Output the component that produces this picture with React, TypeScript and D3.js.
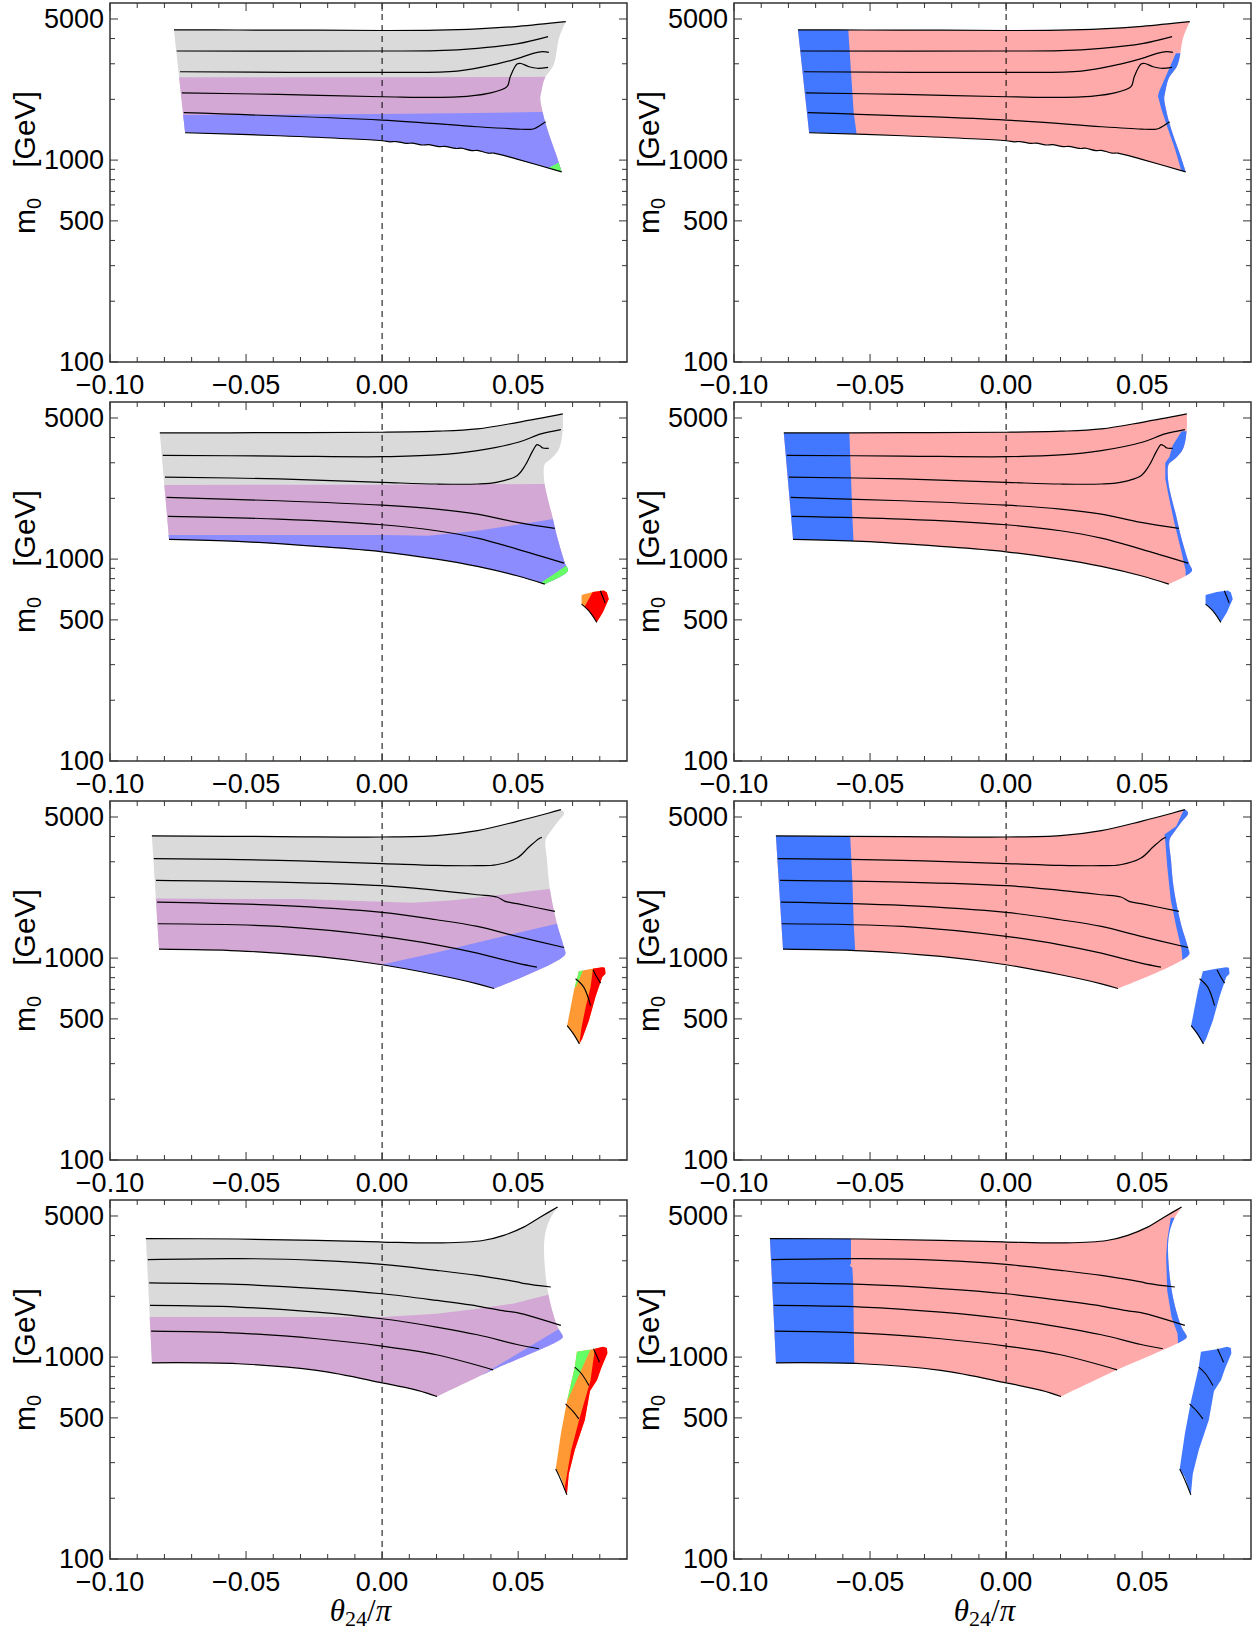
import React from "react";
import * as d3 from "d3";

type P = [number, number];

// ---------- axes ----------
const xMajor = [-0.1, -0.05, 0, 0.05];
const xMajorLabels = ["\u22120.10", "\u22120.05", "0.00", "0.05"];
const xMinor = [-0.09, -0.08, -0.07, -0.06, -0.04, -0.03, -0.02, -0.01, 0.01, 0.02, 0.03, 0.04, 0.06, 0.07, 0.08];
const yMajor = [100, 500, 1000, 5000];
const yMajorLabels = ["100", "500", "1000", "5000"];
const yMinor = [200, 300, 400, 600, 700, 800, 900, 2000, 3000, 4000];

// ---------- row 1 ----------
const r1L1: P[] = [[-0.0765, 4415], [-0.053, 4410], [-0.024, 4400], [0, 4385], [0.02, 4400], [0.035, 4465], [0.05, 4600], [0.0675, 4850]];
const r1L2: P[] = [[-0.0755, 3470], [0, 3470], [0.02, 3485], [0.035, 3580], [0.05, 3775], [0.061, 4090]];
const r1L3: P[] = [[-0.0743, 2740], [0, 2720], [0.0276, 2760], [0.042, 2990], [0.05, 3190], [0.0555, 3380], [0.059, 3445], [0.0613, 3420]];
const r1L4: P[] = [[-0.0736, 2155], [-0.038, 2115], [0, 2060], [0.0276, 2055], [0.039, 2140], [0.0459, 2310], [0.0471, 2590], [0.0496, 2990], [0.051, 3010], [0.054, 2900], [0.057, 2850], [0.061, 2880]];
const r1L5: P[] = [[-0.0729, 1717], [0, 1578], [0.035, 1463], [0.0496, 1425], [0.0547, 1420], [0.0561, 1435], [0.0601, 1549]];
const r1L6: P[] = [[-0.0724, 1366], [-0.038, 1320], [0, 1247], [0.003, 1232], [0.005, 1236], [0.009, 1210], [0.011, 1214], [0.015, 1188], [0.017, 1192], [0.021, 1166], [0.023, 1170], [0.027, 1142], [0.029, 1146], [0.033, 1114], [0.035, 1118], [0.039, 1082], [0.041, 1084], [0.0496, 1011], [0.066, 875]];
const r1Edge: P[] = [[0.0664, 4500], [0.065, 4010], [0.063, 2955], [0.0598, 2540], [0.0584, 2141], [0.0581, 2023], [0.0591, 1703], [0.061, 1382], [0.064, 1059]];
const r1GrayPurple: P[] = [[-0.08, 2570], [0, 2575], [0.07, 2585]];
const r1PurpleBlue: P[] = [[-0.08, 1670], [0, 1690], [0.035, 1710], [0.07, 1745]];
const r1Green: P[] = [[0.0605, 905], [0.0665, 995], [0.075, 995], [0.075, 700], [0.0605, 700]];
const r1LeftBand: P[] = [[-0.058, 4415], [-0.057, 2740], [-0.056, 1717], [-0.055, 1366]];
const r1Strip: P[] = [[0.0624, 3380], [0.0589, 2640], [0.0562, 2180], [0.0558, 2080], [0.057, 1803], [0.059, 1490], [0.062, 1143], [0.0645, 875], [0.0645, 800]];

// ---------- row 2 ----------
const r2L1: P[] = [[-0.0817, 4215], [-0.038, 4230], [0, 4250], [0.02, 4300], [0.035, 4415], [0.05, 4760], [0.0664, 5235]];
const r2L2: P[] = [[-0.0806, 3265], [-0.038, 3240], [0, 3215], [0.02, 3280], [0.035, 3445], [0.05, 3790], [0.0584, 4170], [0.0657, 4380]];
const r2L3: P[] = [[-0.0798, 2550], [-0.038, 2495], [0, 2400], [0.02, 2355], [0.035, 2355], [0.042, 2400], [0.0496, 2590], [0.0525, 2900], [0.0554, 3445], [0.0569, 3690], [0.058, 3640], [0.0591, 3550], [0.0613, 3540]];
const r2L4: P[] = [[-0.0792, 2020], [-0.038, 1945], [0, 1850], [0.02, 1770], [0.035, 1670], [0.0496, 1520], [0.0635, 1420]];
const r2L5: P[] = [[-0.0787, 1628], [-0.038, 1578], [0, 1480], [0.02, 1382], [0.035, 1271], [0.0496, 1121], [0.0669, 955]];
const r2L6: P[] = [[-0.0783, 1252], [-0.053, 1224], [-0.024, 1156], [0, 1087], [0.02, 1000], [0.035, 920], [0.0496, 827], [0.0598, 752]];
const r2Edge: P[] = [[0.0664, 4415], [0.065, 3511], [0.062, 3131], [0.0598, 2955], [0.0595, 2493], [0.0606, 2061], [0.0625, 1640], [0.0642, 1305], [0.0672, 955], [0.0683, 875]];
const r2GrayPurple: P[] = [[-0.085, 2330], [0, 2335], [0.07, 2360]];
const r2PurpleBlue: P[] = [[-0.085, 1315], [0, 1315], [0.017, 1305], [0.025, 1340], [0.035, 1382], [0.0496, 1480], [0.063, 1578], [0.07, 1620]];
const r2Green: P[] = [[0.0585, 765], [0.0675, 925], [0.075, 925], [0.075, 600], [0.0585, 600]];
const r2LeftBand: P[] = [[-0.0576, 4215], [-0.057, 2550], [-0.0565, 1628], [-0.0561, 1252]];
const r2Strip: P[] = [[0.0645, 4300], [0.0612, 3650], [0.06, 3200], [0.0585, 3000], [0.0585, 2500], [0.0597, 2061], [0.0618, 1520], [0.0645, 1079], [0.066, 875], [0.066, 780]];
const r2Island: P[] = [[0.0733, 664], [0.0774, 688], [0.0815, 699], [0.0826, 684], [0.0833, 634], [0.0811, 544], [0.0789, 486], [0.076, 554], [0.0733, 598]];
const r2IslandRed: P[] = [[0.0774, 760], [0.0774, 688], [0.0748, 594], [0.0735, 540], [0.0735, 400], [0.09, 400], [0.09, 760]];
const r2IslandC1: P[] = [[0.0733, 598], [0.076, 554], [0.0789, 486]];
const r2IslandC2: P[] = [[0.0802, 697], [0.0812, 645], [0.082, 605]];

// ---------- row 3 ----------
const r3L1: P[] = [[-0.0846, 4030], [-0.038, 4000], [0, 3980], [0.02, 4040], [0.035, 4280], [0.0496, 4760], [0.0613, 5235], [0.0657, 5440]];
const r3L2: P[] = [[-0.0839, 3110], [-0.038, 3050], [0, 2940], [0.02, 2880], [0.035, 2870], [0.042, 2900], [0.0496, 3130], [0.054, 3550], [0.0576, 3905], [0.0587, 3965]];
const r3L3: P[] = [[-0.0831, 2427], [-0.038, 2380], [0, 2285], [0.02, 2165], [0.035, 2060], [0.0422, 2007], [0.0452, 1910], [0.0496, 1860], [0.0635, 1703]];
const r3L4: P[] = [[-0.0827, 1895], [-0.038, 1825], [0, 1684], [0.02, 1549], [0.035, 1435], [0.0496, 1281], [0.0669, 1129]];
const r3L5: P[] = [[-0.0824, 1480], [-0.038, 1435], [0, 1281], [0.02, 1164], [0.035, 1059], [0.0496, 944], [0.0569, 902]];
const r3L6: P[] = [[-0.082, 1108], [-0.053, 1087], [-0.024, 1019], [0, 927], [0.02, 827], [0.035, 746], [0.0411, 707]];
const r3Edge: P[] = [[0.0669, 5236], [0.0642, 4669], [0.062, 4250], [0.0601, 3863], [0.0606, 3073], [0.0616, 2223], [0.0642, 1490], [0.0669, 1121], [0.0672, 1039]];
const r3GrayPurple: P[] = [[-0.09, 1975], [-0.03, 1960], [0, 1900], [0.011, 1880], [0.025, 1930], [0.04, 2030], [0.055, 2150], [0.07, 2260]];
const r3PurpleBlue: P[] = [[-0.02, 840], [0, 930], [0.02, 1067], [0.035, 1196], [0.0496, 1330], [0.0642, 1480], [0.072, 1560]];
const r3LeftBand: P[] = [[-0.0573, 4030], [-0.0565, 2427], [-0.056, 1480], [-0.0555, 1108]];
const r3Strip: P[] = [[0.0655, 5500], [0.0625, 4500], [0.0582, 4100], [0.0585, 3790], [0.0592, 2850], [0.0605, 1946], [0.0625, 1435], [0.0645, 1100], [0.0648, 980]];
const r3Island: P[] = [[0.0723, 862], [0.0772, 885], [0.0809, 902], [0.0819, 895], [0.0821, 836], [0.0809, 805], [0.0784, 641], [0.076, 491], [0.0735, 398], [0.0725, 376], [0.0705, 414], [0.068, 463], [0.0705, 691]];
const r3IslandRed: P[] = [[0.0775, 950], [0.0775, 885], [0.0766, 718], [0.0748, 571], [0.0733, 455], [0.0722, 350], [0.09, 350], [0.09, 950]];
const r3IslandGreen: P[] = [[0.0738, 950], [0.0738, 866], [0.0712, 720], [0.065, 720], [0.065, 950]];
const r3IslandC1: P[] = [[0.0711, 790], [0.0741, 718], [0.0766, 582]];
const r3IslandC2: P[] = [[0.0775, 875], [0.0788, 811], [0.0803, 752]];
const r3IslandC3: P[] = [[0.068, 463], [0.0705, 418], [0.0725, 376]];

// ---------- row 4 ----------
const r4L1: P[] = [[-0.0868, 3865], [-0.053, 3845], [-0.024, 3790], [0, 3715], [0.022, 3680], [0.037, 3780], [0.0447, 4010], [0.0522, 4415], [0.0582, 4940], [0.0645, 5545]];
const r4L2: P[] = [[-0.0861, 3040], [-0.053, 3075], [-0.024, 3015], [0, 2880], [0.02, 2690], [0.035, 2540], [0.0466, 2400], [0.0496, 2360], [0.0525, 2310], [0.062, 2225]];
const r4L3: P[] = [[-0.0856, 2330], [-0.053, 2290], [-0.024, 2185], [0, 2060], [0.02, 1910], [0.035, 1790], [0.0452, 1690], [0.0496, 1660], [0.0657, 1435]];
const r4L4: P[] = [[-0.0853, 1803], [-0.053, 1770], [-0.024, 1671], [0, 1549], [0.02, 1409], [0.035, 1290], [0.0496, 1155], [0.0576, 1100]];
const r4L5: P[] = [[-0.0849, 1345], [-0.053, 1315], [-0.024, 1233], [0, 1134], [0.02, 1027], [0.0408, 865]];
const r4L6: P[] = [[-0.0846, 937], [-0.053, 927], [-0.024, 859], [0, 746], [0.013, 684], [0.0202, 638]];
const r4Edge: P[] = [[0.0615, 4762], [0.0597, 3900], [0.0598, 2800], [0.0615, 1930], [0.0645, 1409], [0.0664, 1256], [0.065, 1210], [0.0408, 865]];
const r4GrayPurple: P[] = [[-0.09, 1578], [0, 1580], [0.02, 1640], [0.035, 1736], [0.048, 1840], [0.065, 2100], [0.07, 2150]];
const r4Blue: P[] = [[0.037, 820], [0.0662, 1409], [0.08, 1409], [0.08, 500], [0.037, 500]];
const r4LeftBand: P[] = [[-0.057, 3865], [-0.057, 2900], [-0.0575, 2850], [-0.0565, 2760], [-0.0562, 2330], [-0.0558, 937]];
const r4Strip: P[] = [[0.0605, 4900], [0.0592, 3800], [0.0588, 3130], [0.0592, 2140], [0.0608, 1578], [0.063, 1305], [0.0632, 1150]];
const r4Island: P[] = [[0.0716, 1062], [0.0774, 1095], [0.0812, 1125], [0.0826, 1110], [0.0828, 1045], [0.0805, 880], [0.079, 770], [0.0764, 680], [0.0745, 488], [0.0708, 347], [0.0686, 264], [0.0679, 208], [0.0657, 254], [0.0638, 279], [0.0657, 417], [0.0679, 601], [0.0708, 892]];
const r4IslandRed: P[] = [[0.0782, 1200], [0.0782, 1104], [0.0766, 769], [0.0724, 488], [0.0695, 347], [0.0672, 230], [0.067, 150], [0.09, 150], [0.09, 1200]];
const r4IslandGreen: P[] = [[0.0766, 1200], [0.0766, 1092], [0.0679, 601], [0.06, 601], [0.06, 1200]];
const r4IslandC1: P[] = [[0.0708, 892], [0.0733, 827], [0.076, 723]];
const r4IslandC2: P[] = [[0.0674, 587], [0.0701, 540], [0.0723, 494]];
const r4IslandC3: P[] = [[0.0777, 1100], [0.0788, 1020], [0.0799, 944]];
const r4IslandC4: P[] = [[0.0638, 279], [0.0655, 250], [0.0679, 208]];

// ---------- table built from the arrays ----------
interface Island { outline: P[]; red: P[]; green?: P[]; lines: P[][] }
interface Row {
  lines: P[][]; edge: P[]; grayPurple: P[]; purpleBlue?: P[]; bluePoly?: P[]; green?: P[];
  leftBand: P[]; strip: P[]; island?: Island;
}
const rows: Row[] = [
  { lines: [r1L1, r1L2, r1L3, r1L4, r1L5, r1L6], edge: r1Edge, grayPurple: r1GrayPurple, purpleBlue: r1PurpleBlue, green: r1Green, leftBand: r1LeftBand, strip: r1Strip },
  { lines: [r2L1, r2L2, r2L3, r2L4, r2L5, r2L6], edge: r2Edge, grayPurple: r2GrayPurple, purpleBlue: r2PurpleBlue, green: r2Green, leftBand: r2LeftBand, strip: r2Strip,
    island: { outline: r2Island, red: r2IslandRed, lines: [r2IslandC1, r2IslandC2] } },
  { lines: [r3L1, r3L2, r3L3, r3L4, r3L5, r3L6], edge: r3Edge, grayPurple: r3GrayPurple, purpleBlue: r3PurpleBlue, leftBand: r3LeftBand, strip: r3Strip,
    island: { outline: r3Island, red: r3IslandRed, green: r3IslandGreen, lines: [r3IslandC1, r3IslandC2, r3IslandC3] } },
  { lines: [r4L1, r4L2, r4L3, r4L4, r4L5, r4L6], edge: r4Edge, grayPurple: r4GrayPurple, bluePoly: r4Blue, leftBand: r4LeftBand, strip: r4Strip,
    island: { outline: r4Island, red: r4IslandRed, green: r4IslandGreen, lines: [r4IslandC1, r4IslandC2, r4IslandC3, r4IslandC4] } },
];

// ---------- style ----------
const GRAY = "#dadada", PURPLE = "#d4a8d4", LAV = "#8c8cff", GREEN = "#66ff66";
const ORANGE = "#ff9933", RED = "#ff0000", PINK = "#ffaaaa", BLUE = "#4278ff";
const COL_X = [110, 734];
const ROW_Y = [3, 402, 801, 1200];
const PW = 517, PH = 359;
const SANS = "'Liberation Sans', Arial, sans-serif";
const SERIF = "'Liberation Serif', 'Times New Roman', serif";

const x = d3.scaleLinear().domain([-0.1, 0.09]).range([0, PW]);
const y = d3.scaleLog().domain([100, 6000]).range([PH, 0]);
const lineS = d3.line<P>().x(d => x(d[0])).y(d => y(d[1])).curve(d3.curveCatmullRom.alpha(0.5));
const lineL = d3.line<P>().x(d => x(d[0])).y(d => y(d[1]));

function outlinePath(lines: P[][], edge: P[]): string {
  const top = lines[0];
  const bot = lines[lines.length - 1];
  const right: P[] = [top[top.length - 1], ...edge, bot[bot.length - 1]];
  const segs = [top, right, [...bot].reverse()];
  return segs.map((s, i) => { const d = lineS(s)!; return i === 0 ? d : "L" + d.slice(1); }).join("") + "Z";
}
const poly = (pts: P[]) => lineL(pts)! + "Z";
const below = (b: P[]): P[] => [[-0.12, b[0][1]], ...b, [0.12, b[b.length - 1][1]], [0.12, 10], [-0.12, 10]];
const leftOf = (b: P[]): P[] => [[-0.12, b[0][1] * 2], [b[0][0], b[0][1] * 2], ...b, [b[b.length - 1][0], b[b.length - 1][1] / 2], [-0.12, b[b.length - 1][1] / 2]];
const rightOf = (b: P[]): P[] => [...b, [0.09, b[b.length - 1][1]], [0.09, b[0][1]]];

function Panel({ r, c }: { r: number; c: number }) {
  const row = rows[r];
  const id = `${r}-${c}`;
  const outline = outlinePath(row.lines, row.edge);
  const left = c === 0;
  return (
    <g transform={`translate(${COL_X[c]},${ROW_Y[r]})`}>
      <defs>
        <clipPath id={`frame-${id}`}><rect x={0} y={0} width={PW} height={PH} /></clipPath>
        <clipPath id={`main-${id}`}><path d={outline} /></clipPath>
        {row.island && <clipPath id={`isl-${id}`}><path d={poly(row.island.outline)} /></clipPath>}
      </defs>
      <g clipPath={`url(#frame-${id})`}>
        <path d={outline} fill={left ? GRAY : PINK} />
        <g clipPath={`url(#main-${id})`}>
          {left ? (
            <>
              <path d={poly(below(row.grayPurple))} fill={PURPLE} />
              {row.purpleBlue && <path d={poly(below(row.purpleBlue))} fill={LAV} />}
              {row.bluePoly && <path d={poly(row.bluePoly)} fill={LAV} />}
              {row.green && <path d={poly(row.green)} fill={GREEN} />}
            </>
          ) : (
            <>
              <path d={poly(leftOf(row.leftBand))} fill={BLUE} />
              <path d={poly(rightOf(row.strip))} fill={BLUE} />
            </>
          )}
        </g>
        {row.island && (
          <>
            <path d={poly(row.island.outline)} fill={left ? ORANGE : BLUE} />
            {left && (
              <g clipPath={`url(#isl-${id})`}>
                <path d={poly(row.island.red)} fill={RED} />
                {row.island.green && <path d={poly(row.island.green)} fill={GREEN} />}
              </g>
            )}
          </>
        )}
        <line x1={x(0)} x2={x(0)} y1={0} y2={PH} stroke="#000" strokeWidth={1} strokeDasharray="6,5" />
        {row.lines.map((l, i) => <path key={i} d={lineS(l)!} fill="none" stroke="#000" strokeWidth={1.2} />)}
        {row.island && row.island.lines.map((l, i) => <path key={"i" + i} d={lineS(l)!} fill="none" stroke="#000" strokeWidth={1.1} />)}
      </g>
      {/* ticks */}
      <g stroke="#333" strokeWidth={1}>
        {xMajor.map(v => <g key={"xm" + v}><line x1={x(v)} x2={x(v)} y1={PH} y2={PH - 8} /><line x1={x(v)} x2={x(v)} y1={0} y2={8} /></g>)}
        {xMinor.map(v => <g key={"xn" + v}><line x1={x(v)} x2={x(v)} y1={PH} y2={PH - 5} /><line x1={x(v)} x2={x(v)} y1={0} y2={5} /></g>)}
        {yMajor.map(v => <g key={"ym" + v}><line x1={0} x2={8} y1={y(v)} y2={y(v)} /><line x1={PW} x2={PW - 8} y1={y(v)} y2={y(v)} /></g>)}
        {yMinor.map(v => <g key={"yn" + v}><line x1={0} x2={5} y1={y(v)} y2={y(v)} /><line x1={PW} x2={PW - 5} y1={y(v)} y2={y(v)} /></g>)}
      </g>
      <rect x={0} y={0} width={PW} height={PH} fill="none" stroke="#333" strokeWidth={1.5} />
      <g fontFamily={SANS} fontSize={27} fill="#000">
        {xMajor.map((v, i) => <text key={"xl" + v} x={x(v)} y={PH + 32} textAnchor="middle">{xMajorLabels[i]}</text>)}
        {yMajor.map((v, i) => <text key={"yl" + v} x={-6} y={y(v)} dy="0.34em" textAnchor="end">{yMajorLabels[i]}</text>)}
      </g>
      <text transform={`translate(${-75},${PH / 2 - 20}) rotate(-90)`} textAnchor="middle" fontFamily={SANS} fontSize={30}>
        m<tspan fontSize={20} dy={6}>0</tspan><tspan dy={-6}>{"\u2003[GeV]"}</tspan>
      </text>
      {r === 3 && (
        <text x={PW / 2 - 8} y={PH + 62} textAnchor="middle" fontFamily={SERIF} fontSize={31}>
          <tspan fontStyle="italic">θ</tspan><tspan fontSize={22} dy={5}>24</tspan><tspan dy={-5}>/</tspan><tspan fontStyle="italic">π</tspan>
        </text>
      )}
    </g>
  );
}

export default function App() {
  return (
    <svg width={1254} height={1633} viewBox="0 0 1254 1633" style={{ position: "absolute", left: 0, top: 0, background: "#fff" }}>
      <rect x={0} y={0} width={1254} height={1633} fill="#fff" />
      {[0, 1, 2, 3].map(r => [0, 1].map(c => <Panel key={`${r}-${c}`} r={r} c={c} />))}
    </svg>
  );
}
